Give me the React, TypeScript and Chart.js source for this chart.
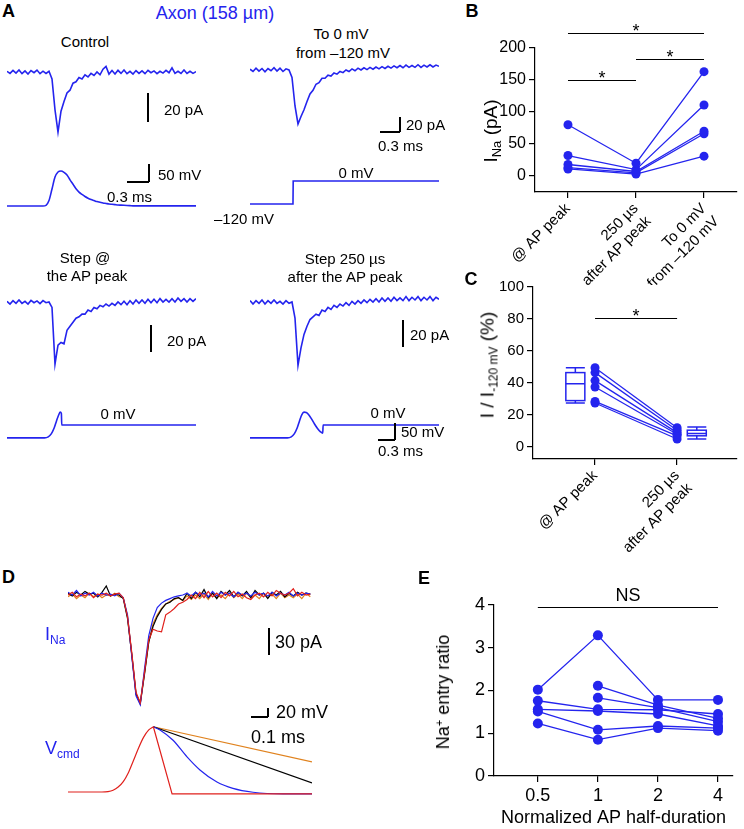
import React, { useEffect, useRef } from 'react';
import { Chart, registerables } from 'chart.js';
Chart.register(...registerables);

const FONT = '"Liberation Sans", Arial, Helvetica, sans-serif';
Chart.defaults.font.family = FONT;
Chart.defaults.color = '#000';

const BLUE = '#2424ee';
const ORANGE = '#e0821e';
const RED = '#e0201c';
const BLACK = '#000000';

// ---------------- Panel A data (pA / mV, sampled every 0.04 ms) ----------------
const A_DT = 0.04;
const controlINa = [0.5,-1,1.2,-0.8,1.5,-1.2,0.8,-1.5,1,-0.5, 1.4,-1.2,0.6,-1,0.5,-5,-27,-43,-28,-21, -15,-13,-8,-7,-4,-5,-2,-3.5,-1,-2.5, 0,-2,2,4,-1.5,1,-1.5,1.2,-1,1.5, -1.2,0.5,-1.5,1,-1,0.8,-1.2,1.2,-0.5,0.8, -1.2,0.5,-0.8,1.2,-0.5,3,-1,0.5,-1,1.5, -1,0.5,-1,0.3];
const toZeroINa = [1,-2,2.5,-1.5,2,-2.5,2,-1,3,-1.5, 2.5,-2,1.5,0,-10,-48,-72,-62,-53,-42, -32,-27,-19,-17,-11,-11,-7,-8,-4,-5.5, -2,-3.5,0,-2,1.5,-1,2.5,0,3,0.5, 3.5,1,4,1.5,4.5,2,5,2.5,5.5,3, 6,3,6.5,3.5,6,3.5,7,3.5,6.5,4, 7,4,6.5,5];
const stepPeakINa = [0.5,-1.5,1,-1,1.5,-1,0.5,-1.5,1.2,-0.5, 0.8,-1.2,1,-0.5,0,-4,-46,-32,-30,-31, -21,-18,-15,-12,-11,-9,-9,-6,-7,-4, -5,-2.5,-3.5,-1.5,-3,-1,-2.5,0,-2,0.5, -2,1,-1.5,1.5,-1,1.5,-1,2,-0.5,2, -0.5,2.5,0,2,0,2.5,0,3,0.5,2.5, 0,2.5,0.5,2.5];
const step250INa = [1,-1.5,1,-1,1.5,-1.5,1,-1,1.5,-1, 0.5,-1.5,1,-1,0,-12,-47,-34,-24,-18, -13,-11,-9,-10,-6,-7,-4,-5.5,-2.5,-4, -1.5,-3,-0.5,-2.5,0.5,-1.5,1,-1,1.5,-0.5, 2,0,2.5,0,3,0.5,3,0.5,3.5,1, 3,1,4,1,3.5,1.5,4,1,3.5,1.5, 4,1,3.5,2];
const controlVm = [-80,-80,-80,-80,-80,-80,-80,-80,-80,-80,-80,-80,-80, -78,-64,-30,5,20,23,19,11,-3,-16,-29,-39,-46,-52,-57,-61,-64,-67,-69,-71,-72.5,-74,-75,-76,-77,-77.5,-78,-78.5,-79, -79.5,-79.5,-79.5,-79.5,-79.5,-79.5,-79.5,-79.5,-79.5,-79.5,-79.5,-79.5,-79.5,-79.5,-79.5,-79.5,-79.5,-79.5,-79.5,-79.5,-79.5,-79.5];
const toZeroVmT = [0, 0.573, 0.576, 2.52];
const toZeroVm = [-120, -120, 0, 0];
const stepPeakVmT = [0, 0.50, 0.55, 0.59, 0.63, 0.66, 0.69, 0.71, 0.725, 0.73, 2.52];
const stepPeakVm = [-38, -38, -35, -26, -8, 12, 30, 38, 34, 0, 0];
const step250VmT = [0, 0.50, 0.55, 0.59, 0.63, 0.66, 0.69, 0.72, 0.75, 0.78, 0.82, 0.86, 0.90, 0.94, 0.97, 0.975, 2.52];
const step250Vm = [-38, -38, -35, -26, -8, 12, 30, 38, 37, 31, 18, 3, -10, -20, -24, 0, 0];

// ---------------- Panel B data ----------------
const bCategories: (string | string[])[] = ['@ AP peak', ['250 µs', 'after AP peak'], ['To 0 mV', 'from –120 mV']];
const bAtPeak = [80, 32, 18, 13, 11];
const bAfter250 = [20, 10, 7, 5, 3];
const bToZero = [163, 111, 70, 66, 31];
const bTicks = [0, 50, 100, 150, 200];

// ---------------- Panel C data ----------------
const cCategories: (string | string[])[] = ['@ AP peak', ['250 µs', 'after AP peak']];
const cAtPeak = [49.5, 46.5, 41.5, 37.5, 28.5, 27.5];
const cAfter250 = [12, 10.5, 9, 8, 7, 5];
const cBoxAtPeak = [27.5, 29, 39.5, 46.5, 49.5]; // min, q1, median, q3, max
const cBoxAfter250 = [5, 7, 8.5, 10.5, 12.5];
const cTicks = [0, 20, 40, 60, 80, 100];

// ---------------- Panel D data ----------------
const D_DT = 0.025;
const dINaBlack = [2,-1,3,0,4,1,2,-2,3,10, -1,1,0,-4,-26,-66,-110,-121,-88,-52, -35,-24,-16,-10,-8,-4,-3,-6,2,-4, 3,-2,6,-3,2,-4,4,0,5,-2, 3,-1,4,-3,5,0,2,-4,3,0, 4,-2,2,-1,3,0,2,1];
const dINaRed = [0,3,-2,1,-1,2,-3,1,0,2, -1,1,2,-3,-24,-64,-108,-120,-86,-50, -38,-40,-41,-22,-19,-15,-10,-8,-5,0, -4,3,-3,4,-2,2,-3,3,-1,4, -2,1,-3,-5,0,2,-2,3,-1,5, 2,0,2,7,-1,3,0,1];
const dINaBlue = [3,0,5,-1,2,0,3,-1,2,0, 1,-1,2,-3,-22,-68,-112,-122,-82,-45, -26,-14,-9,-6,-4,-2,-1,0,2,-1, 3,0,2,-2,4,-1,3,0,2,-2, 3,0,2,-1,3,0,2,-1,3,-1, 2,0,3,-1,2,0,2,1];
const dINaOrange = [-2,1,-4,0,-3,2,-2,1,-3,0, -1,2,-2,-3,-24,-66,-110,-119,-86,-52, -32,-22,-15,-10,-7,-5,-3,-6,-1,-5, 0,-4,1,-5,2,-3,0,-4,2,-3, 1,-4,2,-3,0,-4,2,-3,1,-4, 2,-3,0,-3,1,-4,2,-2];
const dRiseT = [0, 0.2, 0.235, 0.265, 0.295, 0.325, 0.355, 0.385, 0.415, 0.445, 0.475, 0.502];
const dRiseV = [-80, -80, -79, -76, -69, -57, -37, -10, 18, 42, 58, 65];
const dRedT = [0.502, 0.612, 1.435];
const dRedV = [65, -84, -84];
const dBlackT = [0.502, 1.435];
const dBlackV = [65, -60];
const dOrangeT = [0.502, 1.435];
const dOrangeV = [65, -13];
const dBlueT = [0.502, 0.541, 0.618, 0.7, 0.776, 0.876, 0.97, 1.088, 1.265, 1.435];
const dBlueV = [65, 58, 35, -2, -31, -58, -72, -80.5, -84, -84];

// ---------------- Panel E data ----------------
const eCategories = ['0.5', '1', '2', '4'];
const eCell1 = [2.02, 3.29, 1.78, 1.78];
const eCell2 = [null, 2.11, 1.66, 1.35];
const eCell3 = [null, 1.83, 1.60, 1.27];
const eCell4 = [1.76, 1.56, 1.55, 1.45];
const eCell5 = [1.56, 1.52, 1.45, 1.17];
const eCell6 = [1.51, 1.08, 1.17, 1.12];
const eCell7 = [1.23, 0.85, 1.12, 1.06];
const eTicks = [0, 1, 2, 3, 4];

// ---------------- helpers ----------------
type Pt = { x: number; y: number | null };
type Series = { pts: Pt[]; color: string; width: number; smooth?: boolean };
const sampled = (vals: number[], dt: number): Pt[] => vals.map((v, i) => ({ x: i * dt, y: v }));
const paired = (ts: number[], vs: number[]): Pt[] => ts.map((t, i) => ({ x: t, y: vs[i] }));

function ChartBox({ left, top, width, height, make }: { left: number; top: number; width: number; height: number; make: (c: HTMLCanvasElement) => Chart }) {
  const ref = useRef<HTMLCanvasElement>(null);
  useEffect(() => {
    const ch = make(ref.current as HTMLCanvasElement);
    return () => ch.destroy();
  }, []);
  return <canvas ref={ref} width={width} height={height} style={{ position: 'absolute', left, top, width, height }} />;
}

function Trace({ x0, x1, top, bottom, tMax, refPx, refVal, ppu, series }: { x0: number; x1: number; top: number; bottom: number; tMax: number; refPx: number; refVal: number; ppu: number; series: Series[] }) {
  const pad = 4;
  const yMax = refVal + (refPx - top) / ppu;
  const yMin = refVal - (bottom - refPx) / ppu;
  const make = (c: HTMLCanvasElement) => new Chart(c, {
    type: 'line',
    data: {
      datasets: series.map((s, i) => ({
        data: s.pts as any,
        borderColor: s.color,
        borderWidth: s.width,
        pointRadius: 0,
        tension: 0,
        cubicInterpolationMode: s.smooth ? 'monotone' : 'default',
        fill: false,
        order: series.length - i,
      })) as any,
    },
    options: {
      animation: false, responsive: false, events: [],
      layout: { padding: pad },
      plugins: { legend: { display: false }, tooltip: { enabled: false } },
      scales: {
        x: { type: 'linear', display: false, min: 0, max: tMax },
        y: { type: 'linear', display: false, min: yMin, max: yMax },
      },
    },
  } as any);
  return <ChartBox left={x0 - pad} top={top - pad} width={x1 - x0 + 2 * pad} height={bottom - top + 2 * pad} make={make} />;
}

function axisCfg(min: number, max: number, ticks: number[], labelFn: (v: number) => any, fontSize: number, fit: { width?: number; height?: number }, extra: any = {}) {
  return {
    type: 'linear', min, max,
    afterBuildTicks: (s: any) => { s.ticks = ticks.map((v) => ({ value: v })); },
    afterFit: (s: any) => { if (fit.width != null) s.width = fit.width; if (fit.height != null) s.height = fit.height; },
    ticks: { autoSkip: false, color: '#000', font: { size: fontSize, family: FONT }, padding: 3, callback: (v: any) => labelFn(v) },
    grid: { display: true, drawOnChartArea: false, drawTicks: true, tickLength: 6, color: '#000', lineWidth: 1.2 },
    border: { display: true, color: '#000', width: 1.2 },
    ...extra,
  };
}

type Bar = { x1: number; x2: number; y: number; label: string; dy: number; size: number };
function sigBars(bars: Bar[]) {
  return {
    id: 'sigBars',
    afterDraw(chart: any) {
      const { ctx, scales } = chart;
      ctx.save();
      ctx.strokeStyle = '#000'; ctx.fillStyle = '#000'; ctx.lineWidth = 1.2;
      ctx.textAlign = 'center'; ctx.textBaseline = 'alphabetic';
      for (const b of bars) {
        const a = scales.x.getPixelForValue(b.x1);
        const c = scales.x.getPixelForValue(b.x2);
        const yy = Math.round(scales.y.getPixelForValue(b.y)) + 0.5;
        ctx.beginPath(); ctx.moveTo(a, yy); ctx.lineTo(c, yy); ctx.stroke();
        ctx.font = `${b.size}px ${FONT}`;
        ctx.fillText(b.label, (a + c) / 2, yy + b.dy);
      }
      ctx.restore();
    },
  };
}

function boxPlots(boxes: { pos: number; stats: number[] }[], halfW: number) {
  return {
    id: 'boxPlots',
    afterDatasetsDraw(chart: any) {
      const { ctx, scales } = chart;
      ctx.save();
      ctx.strokeStyle = BLUE; ctx.lineWidth = 1.5;
      for (const b of boxes) {
        const xc = scales.x.getPixelForValue(b.pos);
        const [lo, q1, med, q3, hi] = b.stats.map((v) => scales.y.getPixelForValue(v));
        ctx.strokeRect(xc - halfW, q3, 2 * halfW, q1 - q3);
        ctx.beginPath();
        ctx.moveTo(xc - halfW, med); ctx.lineTo(xc + halfW, med);
        ctx.moveTo(xc, q3); ctx.lineTo(xc, hi);
        ctx.moveTo(xc, q1); ctx.lineTo(xc, lo);
        ctx.moveTo(xc - halfW, hi); ctx.lineTo(xc + halfW, hi);
        ctx.moveTo(xc - halfW, lo); ctx.lineTo(xc + halfW, lo);
        ctx.stroke();
      }
      ctx.restore();
    },
  };
}

const dotStyle = { borderColor: BLUE, backgroundColor: BLUE, pointBackgroundColor: BLUE, pointBorderWidth: 0, pointRadius: 4.5, borderWidth: 1.3, tension: 0, spanGaps: false };
const baseOpts = { animation: false, responsive: false, events: [], plugins: { legend: { display: false }, tooltip: { enabled: false } } };

function makeB(c: HTMLCanvasElement) {
  const datasets = bAtPeak.map((v, i) => ({ ...dotStyle, data: [{ x: 0, y: v }, { x: 1, y: bAfter250[i] }, { x: 2, y: bToZero[i] }] }));
  return new Chart(c, {
    type: 'line', data: { datasets },
    options: {
      ...baseOpts,
      layout: { padding: { left: 0, top: 33, right: 7, bottom: 0 } },
      scales: {
        x: axisCfg(-0.485, 2.485, [0, 1, 2], (v) => bCategories[v], 15, { height: 93 }, { ticks: { autoSkip: false, color: '#000', font: { size: 15, family: FONT }, padding: 2, minRotation: 45, maxRotation: 45, callback: (v: any) => bCategories[v] } }),
        y: axisCfg(-25, 200, bTicks, (v) => String(v), 16, { width: 95 }),
      },
    },
    plugins: [sigBars([
      { x1: 0, x2: 2, y: 223.5, label: '*', dy: 3, size: 18 },
      { x1: 1, x2: 2, y: 183, label: '*', dy: 3, size: 18 },
      { x1: 0, x2: 1, y: 150, label: '*', dy: 3, size: 18 },
    ])],
  } as any);
}

function makeC(c: HTMLCanvasElement) {
  const datasets = cAtPeak.map((v, i) => ({ ...dotStyle, data: [{ x: 0, y: v }, { x: 1, y: cAfter250[i] }] }));
  return new Chart(c, {
    type: 'line', data: { datasets },
    options: {
      ...baseOpts,
      layout: { padding: { left: 0, top: 17, right: 7, bottom: 0 } },
      scales: {
        x: axisCfg(-0.756, 1.73, [0, 1], (v) => cCategories[v], 15, { height: 101 }, { ticks: { autoSkip: false, color: '#000', font: { size: 15, family: FONT }, padding: 2, minRotation: 45, maxRotation: 45, callback: (v: any) => cCategories[v] } }),
        y: axisCfg(-7.5, 100, cTicks, (v) => String(v), 15, { width: 93 }),
      },
    },
    plugins: [
      boxPlots([{ pos: -0.24, stats: cBoxAtPeak }, { pos: 1.24, stats: cBoxAfter250 }], 9.5),
      sigBars([{ x1: 0, x2: 1, y: 80.6, label: '*', dy: 3, size: 18 }]),
    ],
  } as any);
}

function makeE(c: HTMLCanvasElement) {
  const cells = [eCell1, eCell2, eCell3, eCell4, eCell5, eCell6, eCell7];
  const datasets = cells.map((cell) => ({ ...dotStyle, pointRadius: 5, data: cell.map((v, j) => ({ x: j, y: v })) }));
  return new Chart(c, {
    type: 'line', data: { datasets },
    options: {
      ...baseOpts,
      layout: { padding: { left: 0, top: 20, right: 11, bottom: 0 } },
      scales: {
        x: axisCfg(-0.73, 3.25, [0, 1, 2, 3], (v) => eCategories[v], 18, { height: 53 }, {
          title: { display: true, text: 'Normalized AP half-duration', color: '#000', font: { size: 18, family: FONT }, padding: { top: 0, bottom: 0 } },
        }),
        y: axisCfg(0, 4, eTicks, (v) => String(v), 18, { width: 114 }),
      },
    },
    plugins: [sigBars([{ x1: 0, x2: 3, y: 3.95, label: 'NS', dy: -7, size: 18 }])],
  } as any);
}

// ---------------- text helpers ----------------
function Txt({ x, y, size = 15, color = '#000', bold = false, align = 'left', children }: any) {
  const tx = align === 'center' ? '-50%' : align === 'right' ? '-100%' : '0';
  return (
    <div style={{ position: 'absolute', left: x, top: y, transform: `translate(${tx}, -50%)`, fontFamily: FONT, fontSize: size, lineHeight: 1, color, fontWeight: bold ? 'bold' : 'normal', whiteSpace: 'nowrap' }}>
      {children}
    </div>
  );
}
function VTxt({ x, y, size = 18, children }: any) {
  return (
    <div style={{ position: 'absolute', left: x, top: y, transform: 'translate(-50%, -50%) rotate(-90deg)', fontFamily: FONT, fontSize: size, lineHeight: 1, color: '#000', whiteSpace: 'nowrap' }}>
      {children}
    </div>
  );
}
const Sub = ({ children, size = 12 }: any) => <span style={{ fontSize: size, position: 'relative', top: '0.3em' }}>{children}</span>;
const Sup = ({ children, size = 11 }: any) => <span style={{ fontSize: size, position: 'relative', top: '-0.55em' }}>{children}</span>;
function Ln({ x1, y1, x2, y2, w = 1.2, color = '#000' }: any) {
  const horiz = y1 === y2;
  return <div style={{ position: 'absolute', left: horiz ? x1 : x1 - w / 2, top: horiz ? y1 - w / 2 : y1, width: horiz ? x2 - x1 : w, height: horiz ? w : y2 - y1, background: color }} />;
}

export default function App() {
  const aT = 63 * A_DT;
  const dT = 1.435;
  return (
    <div style={{ position: 'absolute', left: 0, top: 0, width: 744, height: 829, background: '#fff', overflow: 'hidden' }}>
      {/* ---------- Panel A ---------- */}
      <Txt x={8.5} y={11} size={18} bold align="center">A</Txt>
      <Txt x={215} y={13} size={18} color={BLUE} align="center">Axon (158 µm)</Txt>

      <Txt x={85} y={41} align="center">Control</Txt>
      <Trace x0={7} x1={196} top={50} bottom={140} tMax={aT} refPx={72} refVal={0} ppu={1.4} series={[{ pts: sampled(controlINa, A_DT), color: BLUE, width: 1.6 }]} />
      <Ln x1={148} y1={93} x2={148} y2={122} />
      <Txt x={164} y={109}>20 pA</Txt>
      <Trace x0={7} x1={196} top={160} bottom={215} tMax={aT} refPx={206} refVal={-80} ppu={0.34} series={[{ pts: sampled(controlVm, A_DT), color: BLUE, width: 1.6, smooth: true }]} />
      <Ln x1={149} y1={164} x2={149} y2={182} />
      <Ln x1={127} y1={182} x2={149} y2={182} />
      <Txt x={158} y={174}>50 mV</Txt>
      <Txt x={107} y={196}>0.3 ms</Txt>

      <Txt x={341} y={33} align="center">To 0 mV</Txt>
      <Txt x={343} y={52} align="center">from –120 mV</Txt>
      <Trace x0={250} x1={439} top={50} bottom={135} tMax={aT} refPx={70} refVal={0} ppu={0.75} series={[{ pts: sampled(toZeroINa, A_DT), color: BLUE, width: 1.6 }]} />
      <Ln x1={400} y1={117} x2={400} y2={132} />
      <Ln x1={380} y1={132} x2={400} y2={132} />
      <Txt x={406} y={124}>20 pA</Txt>
      <Txt x={378} y={145}>0.3 ms</Txt>
      <Trace x0={250} x1={439} top={170} bottom={215} tMax={aT} refPx={204} refVal={-120} ppu={23 / 120} series={[{ pts: paired(toZeroVmT, toZeroVm), color: BLUE, width: 1.6 }]} />
      <Txt x={356} y={172} align="center">0 mV</Txt>
      <Txt x={244} y={218} align="center">–120 mV</Txt>

      <Txt x={85} y={257} align="center">Step @</Txt>
      <Txt x={87} y={275} align="center">the AP peak</Txt>
      <Trace x0={7} x1={196} top={280} bottom={375} tMax={aT} refPx={302} refVal={0} ppu={1.35} series={[{ pts: sampled(stepPeakINa, A_DT), color: BLUE, width: 1.6 }]} />
      <Ln x1={151} y1={325} x2={151} y2={352} />
      <Txt x={167} y={340}>20 pA</Txt>
      <Trace x0={7} x1={196} top={400} bottom={445} tMax={aT} refPx={425} refVal={0} ppu={0.34} series={[{ pts: paired(stepPeakVmT, stepPeakVm), color: BLUE, width: 1.6, smooth: true }]} />
      <Txt x={118} y={413} align="center">0 mV</Txt>

      <Txt x={345} y={258} align="center">Step 250 µs</Txt>
      <Txt x={345} y={276} align="center">after the AP peak</Txt>
      <Trace x0={250} x1={439} top={280} bottom={375} tMax={aT} refPx={302} refVal={0} ppu={1.35} series={[{ pts: sampled(step250INa, A_DT), color: BLUE, width: 1.6 }]} />
      <Ln x1={403} y1={320} x2={403} y2={347} />
      <Txt x={410} y={334}>20 pA</Txt>
      <Trace x0={250} x1={439} top={400} bottom={445} tMax={aT} refPx={425} refVal={0} ppu={0.34} series={[{ pts: paired(step250VmT, step250Vm), color: BLUE, width: 1.6, smooth: true }]} />
      <Txt x={388} y={412} align="center">0 mV</Txt>
      <Ln x1={395} y1={423} x2={395} y2={440} />
      <Ln x1={378} y1={440} x2={395} y2={440} />
      <Txt x={401} y={431}>50 mV</Txt>
      <Txt x={378} y={450}>0.3 ms</Txt>

      {/* ---------- Panel B ---------- */}
      <Txt x={472} y={11} size={18} bold align="center">B</Txt>
      <ChartBox left={440} top={15} width={304} height={270} make={makeB} />
      <VTxt x={490} y={131} size={19}>I<Sub size={13}>Na</Sub> (pA)</VTxt>

      {/* ---------- Panel C ---------- */}
      <Txt x={471} y={279} size={18} bold align="center">C</Txt>
      <ChartBox left={440} top={270} width={304} height={290} make={makeC} />
      <VTxt x={487} y={365} size={19}>I / I<Sub size={12}>-120 mV</Sub> (%)</VTxt>

      {/* ---------- Panel D ---------- */}
      <Txt x={8.5} y={577} size={18} bold align="center">D</Txt>
      <Trace x0={68} x1={312} top={575} bottom={715} tMax={dT} refPx={595} refVal={0} ppu={0.9} series={[
        { pts: sampled(dINaOrange, D_DT), color: ORANGE, width: 1.2 },
        { pts: sampled(dINaBlack, D_DT), color: BLACK, width: 1.2 },
        { pts: sampled(dINaBlue, D_DT), color: BLUE, width: 1.2 },
        { pts: sampled(dINaRed, D_DT), color: RED, width: 1.2 },
      ]} />
      <Txt x={45} y={634} size={18} color={BLUE}>I<Sub size={12}>Na</Sub></Txt>
      <Ln x1={269} y1={628} x2={269} y2={655} />
      <Txt x={275} y={642} size={18}>30 pA</Txt>
      <Ln x1={251} y1={717} x2={268} y2={717} />
      <Ln x1={268} y1={708} x2={268} y2={717} />
      <Txt x={276} y={712} size={18}>20 mV</Txt>
      <Txt x={251} y={737} size={18}>0.1 ms</Txt>
      <Trace x0={68} x1={312} top={715} bottom={800} tMax={dT} refPx={792} refVal={-80} ppu={0.45} series={[
        { pts: paired(dOrangeT, dOrangeV), color: ORANGE, width: 1.2 },
        { pts: paired(dBlackT, dBlackV), color: BLACK, width: 1.2 },
        { pts: paired(dBlueT, dBlueV), color: BLUE, width: 1.2, smooth: true },
        { pts: paired(dRedT, dRedV), color: RED, width: 1.2 },
        { pts: paired(dRiseT, dRiseV), color: RED, width: 1.2, smooth: true },
      ]} />
      <Txt x={45} y={748} size={18} color={BLUE}>V<Sub size={12}>cmd</Sub></Txt>

      {/* ---------- Panel E ---------- */}
      <Txt x={424} y={578} size={18} bold align="center">E</Txt>
      <ChartBox left={380} top={585} width={364} height={244} make={makeE} />
      <VTxt x={443} y={692} size={18}>Na<Sup>+</Sup> entry ratio</VTxt>
    </div>
  );
}
